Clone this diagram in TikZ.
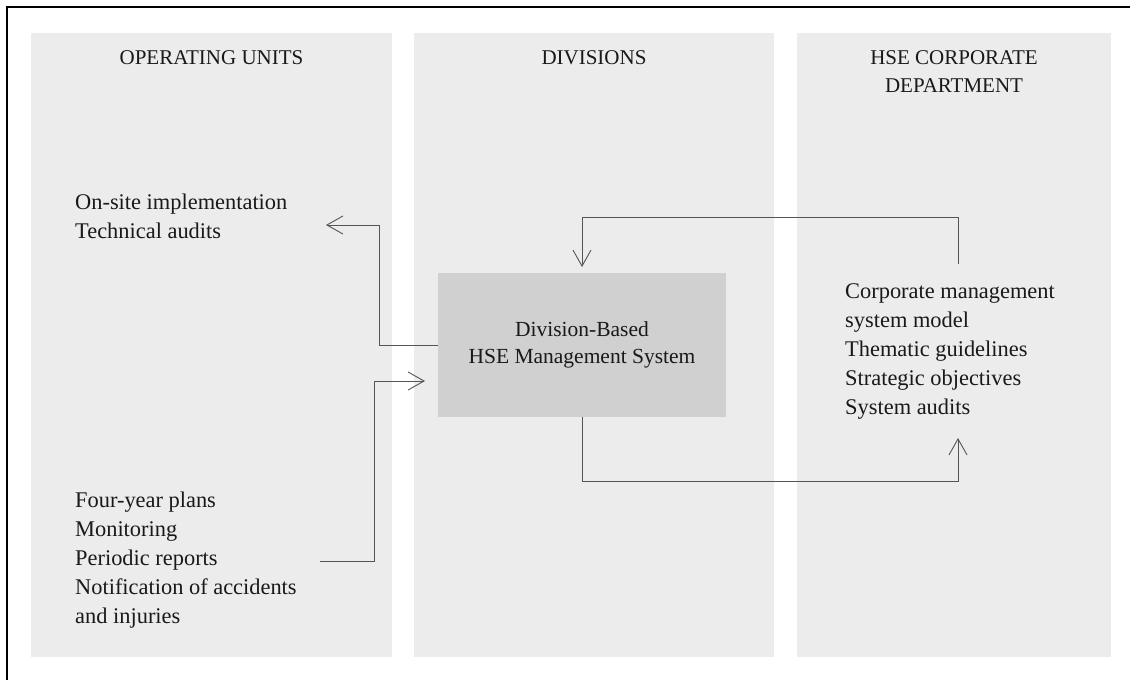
\documentclass[tikz,border=0pt]{standalone}
\usepackage{fontspec}
\setmainfont{Liberation Serif}
\usetikzlibrary{arrows.meta}
\definecolor{panelgray}{RGB}{236,236,236}
\definecolor{boxgray}{RGB}{208,208,208}
\definecolor{linegray}{RGB}{85,85,85}
\definecolor{inkblack}{RGB}{25,25,25}
\begin{document}
\begin{tikzpicture}[x=1pt,y=-1pt,
  panel/.style={fill=panelgray,draw=none},
  header/.style={font=\fontsize{21}{28}\selectfont,text=inkblack,align=center,inner sep=0pt,anchor=base},
  listtext/.style={font=\fontsize{22.4}{29}\selectfont,text=inkblack,align=left,inner sep=0pt,anchor=base west},
  mainbox/.style={fill=boxgray,draw=none,minimum width=288pt,minimum height=144pt,inner sep=0pt,
    font=\fontsize{21.5}{27}\selectfont,text=inkblack,align=center},
  conn/.style={draw=linegray,line width=1pt,-{Straight Barb[length=16pt,width=18pt,line width=0.9pt]}}]
\useasboundingbox (0,0) rectangle (1130,680);
\fill[white] (0,0) rectangle (1130,680);
% outer frame (top and left edges)
\draw[black,line width=2pt] (7,680) -- (7,7) -- (1130,7);
% column panels
\path[panel] (31,33) rectangle (392,657);
\path[panel] (414,33) rectangle (774,657);
\path[panel] (797,33) rectangle (1111,657);
% column headings (base anchor sits on the last line)
\node[header] (hOU) at (211.5,64) {OPERATING UNITS};
\node[header] (hDIV) at (594,64) {DIVISIONS};
\node[header] (hHSE) at (954,92) {HSE CORPORATE\\DEPARTMENT};
% central management system box
\node[mainbox] (dbox) at (582,345) {Division-Based\\HSE Management System};
% item lists, placed by the baseline of their last line
\node[listtext] (onsite) at (75,238) {On-site implementation\\Technical audits};
\node[listtext] (plans) at (75,623) {Four-year plans\\Monitoring\\Periodic reports\\Notification of accidents\\and injuries};
\node[listtext] (corp) at (845,414) {Corporate management\\system model\\Thematic guidelines\\Strategic objectives\\System audits};
% connector end points
\coordinate (onsiteTip) at (326,225);
\coordinate (plansStart) at (320,561);
\coordinate (plansTip) at (425,381);
\coordinate (corpTip) at (958,438);
\coordinate (corpStart) at (958,264);
\coordinate (boxTip) at (582,267);
% connectors
\draw[conn] (dbox.west) -- (379,345) |- (onsiteTip);
\draw[conn] (plansStart) -- (374,561) |- (plansTip);
\draw[conn] (dbox.south) -- (582,481) -| (corpTip);
\draw[conn] (corpStart) -- (958,217) -| (boxTip);
\end{tikzpicture}
\end{document}
